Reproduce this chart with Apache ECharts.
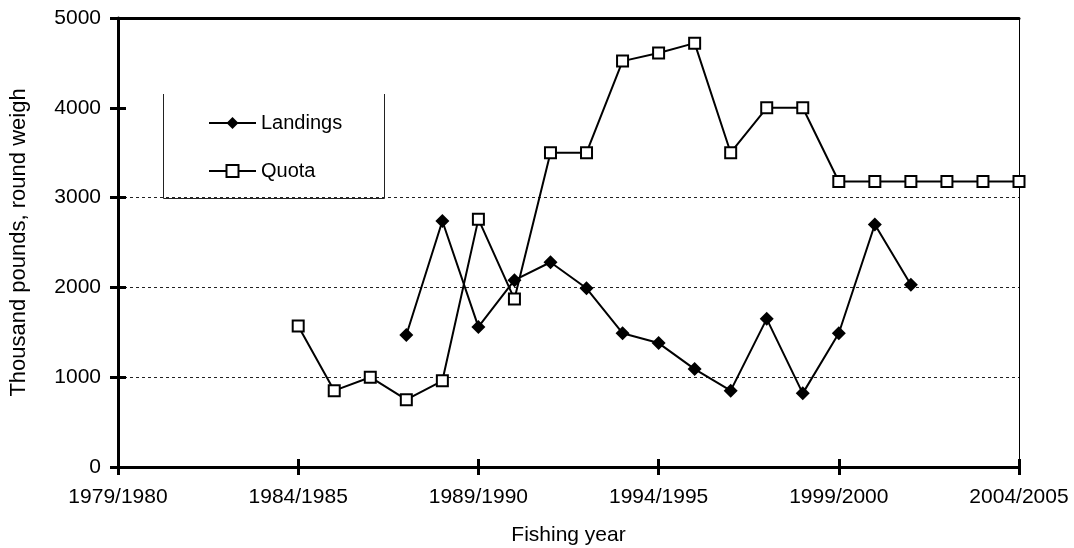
<!DOCTYPE html>
<html>
<head>
<meta charset="utf-8">
<script src="https://cdn.jsdelivr.net/npm/echarts@6/dist/echarts.min.js"></script>
<style>
html,body{margin:0;padding:0;background:#fff;}
#chart{width:1074px;height:548px;}
</style>
</head>
<body>
<div id="chart"></div>
<script>
// Fishing years 1979/1980 ... 2004/2005
var years = ['1979/1980','1980/1981','1981/1982','1982/1983','1983/1984','1984/1985','1985/1986','1986/1987','1987/1988','1988/1989','1989/1990','1990/1991','1991/1992','1992/1993','1993/1994','1994/1995','1995/1996','1996/1997','1997/1998','1998/1999','1999/2000','2000/2001','2001/2002','2002/2003','2003/2004','2004/2005'];
var landings = [null,null,null,null,null,null,null,null,1470,2740,1560,2080,2280,1990,1490,1380,1090,850,1650,820,1490,2700,2030,null,null,null];
var quota = [null,null,null,null,null,1570,850,1000,750,960,2760,1870,3500,3500,4520,4610,4720,3500,4000,4000,3180,3180,3180,3180,3180,3180];
var gridLineValues = [1000,2000,3000];
var yTicks = [0,1000,2000,3000,4000,5000];

var FONT = 'Liberation Sans, Arial, sans-serif';
var chart = echarts.init(document.getElementById('chart'));
var splitColors = yTicks.map(function(v){ return gridLineValues.indexOf(v) >= 0 ? '#222' : 'rgba(0,0,0,0)'; });
var G = {left:118,right:55,top:18,bottom:81,containLabel:false,outerBoundsMode:'none'};

chart.setOption({
  animation:false,
  backgroundColor:'#fff',
  grid:[Object.assign({},G),Object.assign({},G)],
  legend:{
    orient:'vertical', left:208, top:113, itemGap:28, padding:0,
    itemWidth:47, itemHeight:15,
    lineStyle:{width:2,color:'#000'},
    textStyle:{fontFamily:FONT,fontSize:20,color:'#000'},
    data:['Landings','Quota']
  },
  graphic:[{
    type:'polyline',
    shape:{points:[[163.5,94],[163.5,198.5],[384.5,198.5],[384.5,94]]},
    style:{stroke:'#222',lineWidth:1,fill:null},
    z:100
  }],
  xAxis:[{
    gridIndex:0, type:'category', data:years, boundaryGap:false, position:'bottom',
    name:'Fishing year', nameLocation:'middle', nameGap:58,
    nameTextStyle:{fontFamily:FONT,fontSize:21,color:'#000'},
    axisLine:{lineStyle:{color:'#000',width:3}},
    axisTick:{interval:4,length:8,lineStyle:{color:'#000',width:3}},
    axisLabel:{interval:4,fontFamily:FONT,fontSize:21,color:'#000',margin:20},
    splitLine:{show:false}
  },{
    gridIndex:1, type:'category', data:years, boundaryGap:false, position:'bottom',
    axisLine:{show:true,onZero:false,lineStyle:{color:'rgba(0,0,0,0)',width:0}},
    axisTick:{show:true,inside:true,interval:4,length:8,lineStyle:{color:'#000',width:3}},
    axisLabel:{show:false}, splitLine:{show:false}
  },{
    gridIndex:1, type:'category', data:years, boundaryGap:false, position:'top',
    axisLine:{show:true,onZero:false,lineStyle:{color:'#000',width:3}},
    axisTick:{show:false}, axisLabel:{show:false}, splitLine:{show:false}
  }],
  yAxis:[{
    gridIndex:0, type:'value', min:0, max:5000, interval:1000, position:'left',
    name:'Thousand pounds, round weigh', nameLocation:'middle', nameGap:88, nameRotate:90,
    nameTextStyle:{fontFamily:FONT,fontSize:22,color:'#000'},
    axisLine:{show:true,lineStyle:{color:'#000',width:3}},
    axisTick:{show:true,length:8,lineStyle:{color:'#000',width:3}},
    axisLabel:{fontFamily:FONT,fontSize:21,color:'#000',margin:17,formatter:function(v){return String(v);}},
    splitLine:{show:true,lineStyle:{type:[3,3],color:splitColors,width:1}}
  },{
    gridIndex:1, type:'value', min:0, max:5000, interval:1000, position:'left',
    axisLine:{show:true,onZero:false,lineStyle:{color:'rgba(0,0,0,0)',width:0}},
    axisTick:{show:true,inside:true,length:8,lineStyle:{color:'#000',width:3}},
    axisLabel:{show:false}, splitLine:{show:false}
  },{
    gridIndex:1, type:'value', min:0, max:5000, interval:1000, position:'right',
    axisLine:{show:true,onZero:false,lineStyle:{color:'#000',width:1}},
    axisTick:{show:false}, axisLabel:{show:false}, splitLine:{show:false}
  }],
  series:[{
    name:'Landings', type:'line', data:landings, xAxisIndex:0, yAxisIndex:0,
    symbol:'diamond', symbolSize:14, showSymbol:true,
    lineStyle:{color:'#000',width:2},
    itemStyle:{color:'#000',borderColor:'#000',borderWidth:0},
    connectNulls:false, z:5
  },{
    name:'Quota', type:'line', data:quota, xAxisIndex:0, yAxisIndex:0,
    symbol:'rect', symbolSize:11, showSymbol:true,
    lineStyle:{color:'#000',width:2},
    itemStyle:{color:'#fff',borderColor:'#000',borderWidth:2},
    connectNulls:false, z:4
  }]
});
</script>
</body>
</html>
